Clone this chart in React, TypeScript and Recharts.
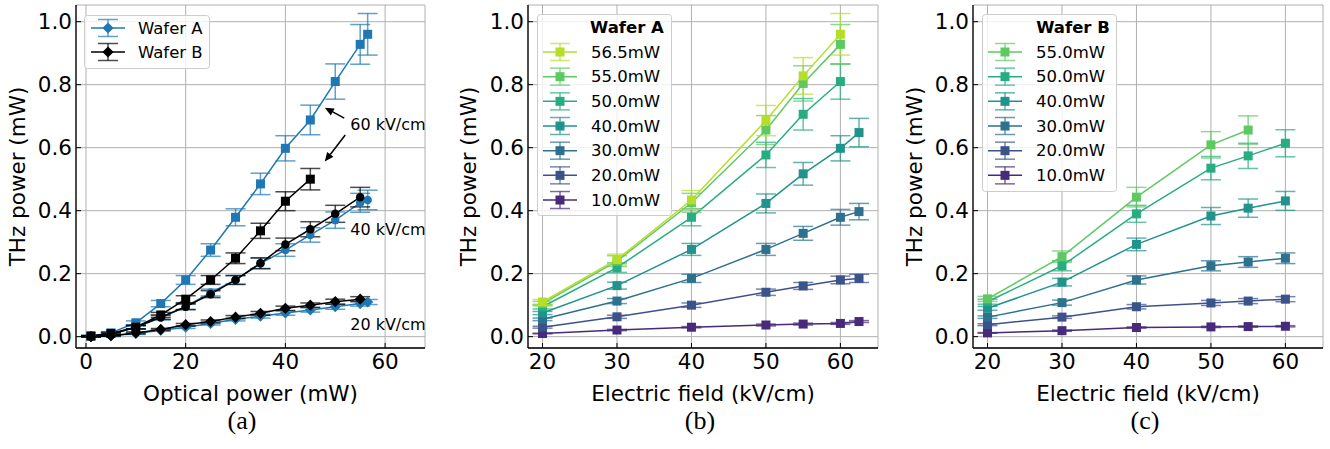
import React from "react";
import {
  ComposedChart,
  Line,
  XAxis,
  YAxis,
  CartesianGrid,
  ErrorBar,
  ReferenceLine,
  ReferenceDot,
} from "recharts";

const FONT = "DejaVu Sans";
const BLUE = "#1f77b4";
const BLACK = "#000000";

// (a) THz power vs optical power
const opticalA = [1, 5, 10, 15, 20, 25, 30, 35, 40, 45, 50, 55, 56.5];
const opticalB = [1, 5, 10, 15, 20, 25, 30, 35, 40, 45, 50, 55];
const opticalB60 = [1, 5, 10, 15, 20, 25, 30, 35, 40, 45];

const waferA60 = [0.002, 0.012, 0.044, 0.105, 0.18, 0.275, 0.379, 0.485, 0.598, 0.688, 0.81, 0.928, 0.96];
const waferA60Err = [0.002, 0.004, 0.006, 0.01, 0.014, 0.02, 0.027, 0.034, 0.04, 0.047, 0.056, 0.063, 0.066];
const waferA40 = [0.001, 0.008, 0.03, 0.06, 0.095, 0.14, 0.18, 0.233, 0.275, 0.323, 0.37, 0.425, 0.434];
const waferA40Err = [0.001, 0.003, 0.005, 0.007, 0.009, 0.011, 0.014, 0.017, 0.02, 0.023, 0.026, 0.03, 0.031];
const waferA20 = [0.0, 0.003, 0.01, 0.02, 0.03, 0.042, 0.055, 0.065, 0.075, 0.085, 0.095, 0.105, 0.11];
const waferA20Err = [0.001, 0.002, 0.003, 0.003, 0.004, 0.005, 0.005, 0.006, 0.007, 0.007, 0.008, 0.008, 0.008];

const waferB60 = [0.002, 0.01, 0.03, 0.069, 0.119, 0.18, 0.249, 0.336, 0.43, 0.5];
const waferB60Err = [0.002, 0.004, 0.006, 0.008, 0.011, 0.014, 0.017, 0.024, 0.03, 0.034];
const waferB40 = [0.001, 0.008, 0.03, 0.062, 0.095, 0.135, 0.18, 0.233, 0.293, 0.341, 0.39, 0.443];
const waferB40Err = [0.001, 0.003, 0.005, 0.007, 0.009, 0.011, 0.014, 0.017, 0.02, 0.024, 0.027, 0.031];
const waferB20 = [0.0, 0.003, 0.012, 0.023, 0.038, 0.048, 0.062, 0.074, 0.09, 0.1, 0.111, 0.119];
const waferB20Err = [0.001, 0.002, 0.003, 0.003, 0.004, 0.005, 0.005, 0.006, 0.007, 0.007, 0.008, 0.008];

// (b) wafer A, THz power vs electric field
const fieldA6 = [20, 30, 40, 50, 55, 60];
const fieldA7 = [20, 30, 40, 50, 55, 60, 62.5];
const a565 = [0.11, 0.245, 0.434, 0.686, 0.828, 0.96];
const a565Err = [0.008, 0.017, 0.03, 0.048, 0.058, 0.066];
const a550 = [0.105, 0.24, 0.425, 0.656, 0.804, 0.928];
const a550Err = [0.007, 0.017, 0.03, 0.046, 0.056, 0.063];
const a500 = [0.095, 0.219, 0.379, 0.577, 0.706, 0.81];
const a500Err = [0.007, 0.015, 0.027, 0.04, 0.05, 0.056];
const a400 = [0.075, 0.162, 0.277, 0.423, 0.517, 0.598, 0.648];
const a400Err = [0.005, 0.011, 0.019, 0.03, 0.036, 0.04, 0.045];
const a300 = [0.055, 0.113, 0.185, 0.277, 0.328, 0.379, 0.397];
const a300Err = [0.004, 0.008, 0.013, 0.019, 0.022, 0.025, 0.026];
const a200 = [0.03, 0.063, 0.1, 0.141, 0.161, 0.18, 0.185];
const a200Err = [0.003, 0.005, 0.007, 0.01, 0.011, 0.012, 0.013];
const a100 = [0.01, 0.021, 0.03, 0.037, 0.04, 0.042, 0.048];
const a100Err = [0.001, 0.002, 0.002, 0.003, 0.003, 0.003, 0.003];

// (c) wafer B, THz power vs electric field
const fieldB5 = [20, 30, 40, 50, 55];
const fieldB6 = [20, 30, 40, 50, 55, 60];
const b550 = [0.12, 0.254, 0.443, 0.609, 0.656];
const b550Err = [0.008, 0.018, 0.031, 0.042, 0.045];
const b500 = [0.111, 0.225, 0.39, 0.535, 0.574, 0.614];
const b500Err = [0.008, 0.016, 0.027, 0.037, 0.04, 0.043];
const b400 = [0.09, 0.173, 0.293, 0.383, 0.408, 0.431];
const b400Err = [0.006, 0.012, 0.02, 0.027, 0.029, 0.03];
const b300 = [0.062, 0.108, 0.18, 0.225, 0.237, 0.249];
const b300Err = [0.004, 0.008, 0.013, 0.016, 0.017, 0.017];
const b200 = [0.038, 0.062, 0.095, 0.107, 0.113, 0.119];
const b200Err = [0.003, 0.004, 0.007, 0.008, 0.008, 0.008];
const b100 = [0.012, 0.019, 0.029, 0.031, 0.032, 0.033];
const b100Err = [0.001, 0.002, 0.002, 0.002, 0.002, 0.002];

const powerColors: Record<string, string> = {
  "56.5mW": "#b5de2b",
  "55.0mW": "#5ec962",
  "50.0mW": "#27ad81",
  "40.0mW": "#20938c",
  "30.0mW": "#2c718e",
  "20.0mW": "#3b528b",
  "10.0mW": "#472a7a",
};

const yTicks = [0, 0.2, 0.4, 0.6, 0.8, 1.0];
const yDomain: [number, number] = [-0.036, 1.053];

type Shape = "square" | "circle" | "diamond";
interface Series {
  name: string;
  color: string;
  shape: Shape;
  xs: number[];
  ys: number[];
  errs: number[];
}

const toRows = (s: Series) => s.xs.map((x, i) => ({ x, y: s.ys[i], e: s.errs[i] }));

function Marker({ shape, cx, cy, color, size }: { shape: Shape; cx: number; cy: number; color: string; size: number }) {
  if (shape === "square")
    return <rect x={cx - size / 2} y={cy - size / 2} width={size} height={size} fill={color} />;
  if (shape === "circle") return <circle cx={cx} cy={cy} r={size / 2} fill={color} />;
  const r = size * 0.62;
  return <polygon points={`${cx},${cy - r} ${cx + r},${cy} ${cx},${cy + r} ${cx - r},${cy}`} fill={color} />;
}

const dotFor = (s: Series) => (p: any) => {
  if (p.cx == null || p.cy == null) return <g key={p.index} />;
  return (
    <g key={p.index}>
      <Marker shape={s.shape} cx={p.cx} cy={p.cy} color={s.color} size={s.shape === "circle" ? 8.5 : 9} />
    </g>
  );
};

function Arrow(p: any) {
  const { x1, y1, x2, y2 } = p;
  const dx = x2 - x1;
  const dy = y2 - y1;
  const len = Math.sqrt(dx * dx + dy * dy);
  const ux = dx / len;
  const uy = dy / len;
  const hl = 9;
  const hw = 4;
  const bx = x2 - ux * hl;
  const by = y2 - uy * hl;
  return (
    <g>
      <line x1={x1} y1={y1} x2={bx} y2={by} stroke="#000" strokeWidth={1.5} />
      <polygon
        points={`${x2},${y2} ${bx - uy * hw},${by + ux * hw} ${bx + uy * hw},${by - ux * hw}`}
        fill="#000"
      />
    </g>
  );
}

const noteText = (text: string) => (p: any) => (
  <text x={p.cx} y={p.cy} dominantBaseline="central" fontFamily={FONT} fontSize={16} fill="#000">
    {text}
  </text>
);

interface PanelProps {
  left: number;
  width: number;
  plotLeft: number;
  plotRight: number;
  xDomain: [number, number];
  xTicks: number[];
  xLabel: string;
  yLabelX: number;
  series: Series[];
  children?: React.ReactNode;
}

function Panel({ left, width, plotLeft, plotRight, xDomain, xTicks, xLabel, yLabelX, series, children }: PanelProps) {
  const tickStyle = { fontSize: 21.5, fill: "#000", fontFamily: FONT };
  return (
    <div style={{ position: "absolute", left, top: 0 }}>
      <ComposedChart
        width={width}
        height={412}
        margin={{ top: 5, right: left + width - plotRight, left: 0, bottom: 12 }}
      >
        <CartesianGrid stroke="#b0b0b0" strokeWidth={1} />
        <XAxis
          type="number"
          dataKey="x"
          domain={xDomain}
          ticks={xTicks}
          allowDataOverflow
          height={52}
          tick={tickStyle}
          tickSize={-5}
          tickMargin={11}
          tickLine={{ stroke: "#000" }}
          axisLine={{ stroke: "#000", strokeWidth: 1.3 }}
          label={(p: any) => (
            <text
              x={p.viewBox.x + p.viewBox.width / 2}
              y={p.viewBox.y + 45}
              textAnchor="middle"
              dominantBaseline="central"
              fontFamily={FONT}
              fontSize={21.5}
              fill="#000"
            >
              {xLabel}
            </text>
          )}
        />
        <XAxis
          xAxisId="top"
          orientation="top"
          type="number"
          domain={xDomain}
          allowDataOverflow
          height={0}
          tick={false}
          tickLine={false}
          axisLine={{ stroke: "#000", strokeWidth: 1.3 }}
        />
        <YAxis
          type="number"
          domain={yDomain}
          ticks={yTicks}
          allowDataOverflow
          width={plotLeft - left}
          tick={tickStyle}
          tickFormatter={(v: number) => v.toFixed(1)}
          tickSize={-5}
          tickMargin={9}
          tickLine={{ stroke: "#000" }}
          axisLine={{ stroke: "#000", strokeWidth: 1.3 }}
          label={(p: any) => (
            <text
              transform={`translate(${yLabelX},${p.viewBox.y + p.viewBox.height / 2}) rotate(-90)`}
              textAnchor="middle"
              dominantBaseline="central"
              fontFamily={FONT}
              fontSize={21.5}
              fill="#000"
            >
              THz power (mW)
            </text>
          )}
        />
        <YAxis
          yAxisId="right"
          orientation="right"
          type="number"
          domain={yDomain}
          allowDataOverflow
          width={0}
          tick={false}
          tickLine={false}
          axisLine={{ stroke: "#000", strokeWidth: 1.3 }}
        />
        {series.map((s) => (
          <Line
            key={s.name}
            data={toRows(s)}
            dataKey="y"
            type="linear"
            stroke={s.color}
            strokeWidth={1.5}
            dot={dotFor(s)}
            activeDot={false}
            legendType="none"
            isAnimationActive={false}
          >
            <ErrorBar
              dataKey="e"
              direction="y"
              width={10}
              stroke={s.color}
              strokeOpacity={0.7}
              strokeWidth={1.5}
              isAnimationActive={false}
            />
          </Line>
        ))}
        {children}
      </ComposedChart>
    </div>
  );
}

interface LegendEntry {
  name: string;
  color: string;
  shape: Shape;
}

function LegendBox({
  left,
  top,
  width,
  height,
  title,
  titleX,
  entries,
  firstY,
  gap,
  handleX,
  textX,
}: {
  left: number;
  top: number;
  width: number;
  height: number;
  title?: string;
  titleX?: number;
  entries: LegendEntry[];
  firstY: number;
  gap: number;
  handleX: number;
  textX: number;
}) {
  return (
    <svg style={{ position: "absolute", left, top }} width={width + 2} height={height + 2}>
      <rect x={0.5} y={0.5} width={width} height={height} rx={3} fill="#fff" fillOpacity={0.8} stroke="#cccccc" />
      {title && (
        <text
          x={titleX}
          y={firstY - gap}
          textAnchor="middle"
          dominantBaseline="central"
          fontFamily={FONT}
          fontSize={16.5}
          fontWeight="bold"
          fill="#000"
        >
          {title}
        </text>
      )}
      {entries.map((e, i) => {
        const cy = firstY + i * gap;
        return (
          <g key={e.name}>
            <line x1={handleX - 17} x2={handleX + 17} y1={cy} y2={cy} stroke={e.color} strokeWidth={1.5} />
            <g stroke={e.color} strokeOpacity={0.7} strokeWidth={1.5}>
              <line x1={handleX} x2={handleX} y1={cy - 8.5} y2={cy + 8.5} />
              <line x1={handleX - 10} x2={handleX + 10} y1={cy - 8.5} y2={cy - 8.5} />
              <line x1={handleX - 10} x2={handleX + 10} y1={cy + 8.5} y2={cy + 8.5} />
            </g>
            <Marker shape={e.shape} cx={handleX} cy={cy} color={e.color} size={9} />
            <text x={textX} y={cy} dominantBaseline="central" fontFamily={FONT} fontSize={16.5} fill="#000">
              {e.name}
            </text>
          </g>
        );
      })}
    </svg>
  );
}

const seriesA: Series[] = [
  { name: "A60", color: BLUE, shape: "square", xs: opticalA, ys: waferA60, errs: waferA60Err },
  { name: "A40", color: BLUE, shape: "circle", xs: opticalA, ys: waferA40, errs: waferA40Err },
  { name: "A20", color: BLUE, shape: "diamond", xs: opticalA, ys: waferA20, errs: waferA20Err },
  { name: "B60", color: BLACK, shape: "square", xs: opticalB60, ys: waferB60, errs: waferB60Err },
  { name: "B40", color: BLACK, shape: "circle", xs: opticalB, ys: waferB40, errs: waferB40Err },
  { name: "B20", color: BLACK, shape: "diamond", xs: opticalB, ys: waferB20, errs: waferB20Err },
];

const seriesB: Series[] = [
  { name: "10.0mW", color: powerColors["10.0mW"], shape: "square", xs: fieldA7, ys: a100, errs: a100Err },
  { name: "20.0mW", color: powerColors["20.0mW"], shape: "square", xs: fieldA7, ys: a200, errs: a200Err },
  { name: "30.0mW", color: powerColors["30.0mW"], shape: "square", xs: fieldA7, ys: a300, errs: a300Err },
  { name: "40.0mW", color: powerColors["40.0mW"], shape: "square", xs: fieldA7, ys: a400, errs: a400Err },
  { name: "50.0mW", color: powerColors["50.0mW"], shape: "square", xs: fieldA6, ys: a500, errs: a500Err },
  { name: "55.0mW", color: powerColors["55.0mW"], shape: "square", xs: fieldA6, ys: a550, errs: a550Err },
  { name: "56.5mW", color: powerColors["56.5mW"], shape: "square", xs: fieldA6, ys: a565, errs: a565Err },
];

const seriesC: Series[] = [
  { name: "10.0mW", color: powerColors["10.0mW"], shape: "square", xs: fieldB6, ys: b100, errs: b100Err },
  { name: "20.0mW", color: powerColors["20.0mW"], shape: "square", xs: fieldB6, ys: b200, errs: b200Err },
  { name: "30.0mW", color: powerColors["30.0mW"], shape: "square", xs: fieldB6, ys: b300, errs: b300Err },
  { name: "40.0mW", color: powerColors["40.0mW"], shape: "square", xs: fieldB6, ys: b400, errs: b400Err },
  { name: "50.0mW", color: powerColors["50.0mW"], shape: "square", xs: fieldB6, ys: b500, errs: b500Err },
  { name: "55.0mW", color: powerColors["55.0mW"], shape: "square", xs: fieldB5, ys: b550, errs: b550Err },
];

const legendA: LegendEntry[] = [
  { name: "Wafer A", color: BLUE, shape: "diamond" },
  { name: "Wafer B", color: BLACK, shape: "diamond" },
];
const legendB: LegendEntry[] = [...seriesB].reverse().map((s) => ({ name: s.name, color: s.color, shape: s.shape }));
const legendC: LegendEntry[] = [...seriesC].reverse().map((s) => ({ name: s.name, color: s.color, shape: s.shape }));

const panelLabel = (text: string, cx: number) => (
  <div
    style={{
      position: "absolute",
      left: cx - 40,
      width: 80,
      top: 406,
      textAlign: "center",
      fontFamily: "Liberation Serif",
      fontSize: 26,
      lineHeight: "30px",
      color: "#000",
    }}
  >
    {text}
  </div>
);

export default function App() {
  return (
    <div style={{ position: "absolute", left: 0, top: 0, width: 1330, height: 449, background: "#fff" }}>
      <Panel
        left={0}
        width={440}
        plotLeft={76}
        plotRight={425}
        xDomain={[-2, 68]}
        xTicks={[0, 20, 40, 60]}
        xLabel="Optical power (mW)"
        yLabelX={17}
        series={seriesA}
      >
        <ReferenceLine segment={[{ x: 51.8, y: 0.694 }, { x: 47.9, y: 0.727 }]} shape={Arrow} ifOverflow="visible" />
        <ReferenceLine segment={[{ x: 52, y: 0.64 }, { x: 47.9, y: 0.556 }]} shape={Arrow} ifOverflow="visible" />
        <ReferenceDot x={53} y={0.675} r={0} shape={noteText("60 kV/cm")} ifOverflow="visible" />
        <ReferenceDot x={53} y={0.341} r={0} shape={noteText("40 kV/cm")} ifOverflow="visible" />
        <ReferenceDot x={53} y={0.04} r={0} shape={noteText("20 kV/cm")} ifOverflow="visible" />
      </Panel>
      <Panel
        left={440}
        width={450}
        plotLeft={528}
        plotRight={878}
        xDomain={[18.05, 65.05]}
        xTicks={[20, 30, 40, 50, 60]}
        xLabel="Electric field (kV/cm)"
        yLabelX={28}
        series={seriesB}
      />
      <Panel
        left={890}
        width={440}
        plotLeft={973}
        plotRight={1323}
        xDomain={[18.05, 65.05]}
        xTicks={[20, 30, 40, 50, 60]}
        xLabel="Electric field (kV/cm)"
        yLabelX={24}
        series={seriesC}
      />
      <LegendBox left={84} top={15} width={125} height={53} entries={legendA} firstY={13} gap={24} handleX={24} textX={54} />
      <LegendBox
        left={537}
        top={14}
        width={134}
        height={201}
        title="Wafer A"
        titleX={90}
        entries={legendB}
        firstY={38}
        gap={24.67}
        handleX={23}
        textX={54}
      />
      <LegendBox
        left={982}
        top={14}
        width={134}
        height={177}
        title="Wafer B"
        titleX={91}
        entries={legendC}
        firstY={38}
        gap={24.67}
        handleX={23}
        textX={54}
      />
      {panelLabel("(a)", 242)}
      {panelLabel("(b)", 700)}
      {panelLabel("(c)", 1145)}
    </div>
  );
}
